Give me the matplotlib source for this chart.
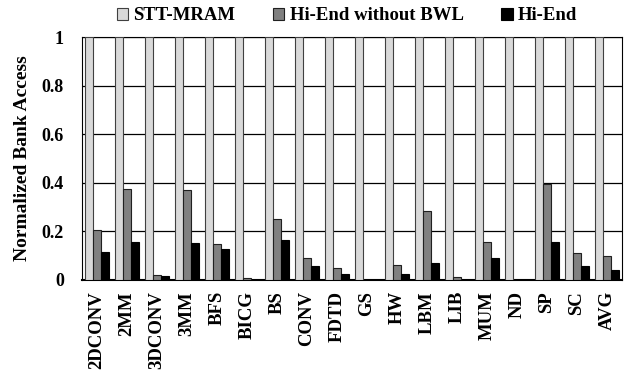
import matplotlib
matplotlib.use("Agg")
import matplotlib.pyplot as plt
import numpy as np

plt.rcParams['font.family'] = ['Liberation Serif', 'DejaVu Serif']
plt.rcParams['font.weight'] = 'bold'

# benchmarks and normalized bank access values
benchmarks = ['2DCONV', '2MM', '3DCONV', '3MM', 'BFS', 'BICG', 'BS', 'CONV', 'FDTD',
              'GS', 'HW', 'LBM', 'LIB', 'MUM', 'ND', 'SP', 'SC', 'AVG']
stt_mram = [1.0] * 18
hi_end_no_bwl = [0.204, 0.374, 0.019, 0.370, 0.147, 0.010, 0.250, 0.089, 0.049,
                 0.001, 0.060, 0.283, 0.012, 0.155, 0.0, 0.394, 0.110, 0.098]
hi_end = [0.117, 0.155, 0.015, 0.152, 0.128, 0.002, 0.165, 0.056, 0.026,
          0.001, 0.023, 0.069, 0.002, 0.092, 0.0, 0.156, 0.058, 0.041]

x = np.arange(len(benchmarks))
w = 0.277

fig = plt.figure(figsize=(6.31, 3.75), dpi=100)
ax = fig.add_axes([82 / 631, 1 - 280 / 375, 540 / 631, 243 / 375])

ax.bar(x - w, stt_mram, w, color='#d9d9d9', edgecolor='#404040', linewidth=0.8,
       label='STT-MRAM', zorder=3)
ax.bar(x, hi_end_no_bwl, w, color='#808080', edgecolor='#202020', linewidth=0.8,
       label='Hi-End without BWL', zorder=3)
ax.bar(x + w, hi_end, w, color='black', edgecolor='black', linewidth=0.8,
       label='Hi-End', zorder=3)

ax.set_xlim(-0.5, len(benchmarks) - 0.5)
ax.set_ylim(0, 1)
ax.set_yticks([0, 0.2, 0.4, 0.6, 0.8, 1.0])
ax.set_yticklabels(['0', '0.2', '0.4', '0.6', '0.8', '1'], fontsize=13, fontweight='bold')
ax.set_xticks(x)
ax.set_xticklabels(benchmarks, rotation=90, fontsize=13.5, fontweight='bold')
ax.tick_params(axis='x', length=0, pad=8)
ax.tick_params(axis='y', length=0, pad=13)
ax.yaxis.grid(True, color='black', linewidth=0.9, zorder=0)
ax.set_axisbelow(True)
for s in ['top', 'right', 'left']:
    ax.spines[s].set_linewidth(0.8)
ax.spines['bottom'].set_linewidth(1.5)
ax.set_ylabel('Normalized Bank Access', fontsize=14, fontweight='bold', labelpad=8)

fig.legend(loc='center', bbox_to_anchor=(347 / 631, 1 - 16 / 375), ncol=3, frameon=False,
           fontsize=13.5, handlelength=0.6, handleheight=0.6, handletextpad=0.3,
           columnspacing=2.0, borderaxespad=0)

fig.savefig('out.png', dpi=100)
